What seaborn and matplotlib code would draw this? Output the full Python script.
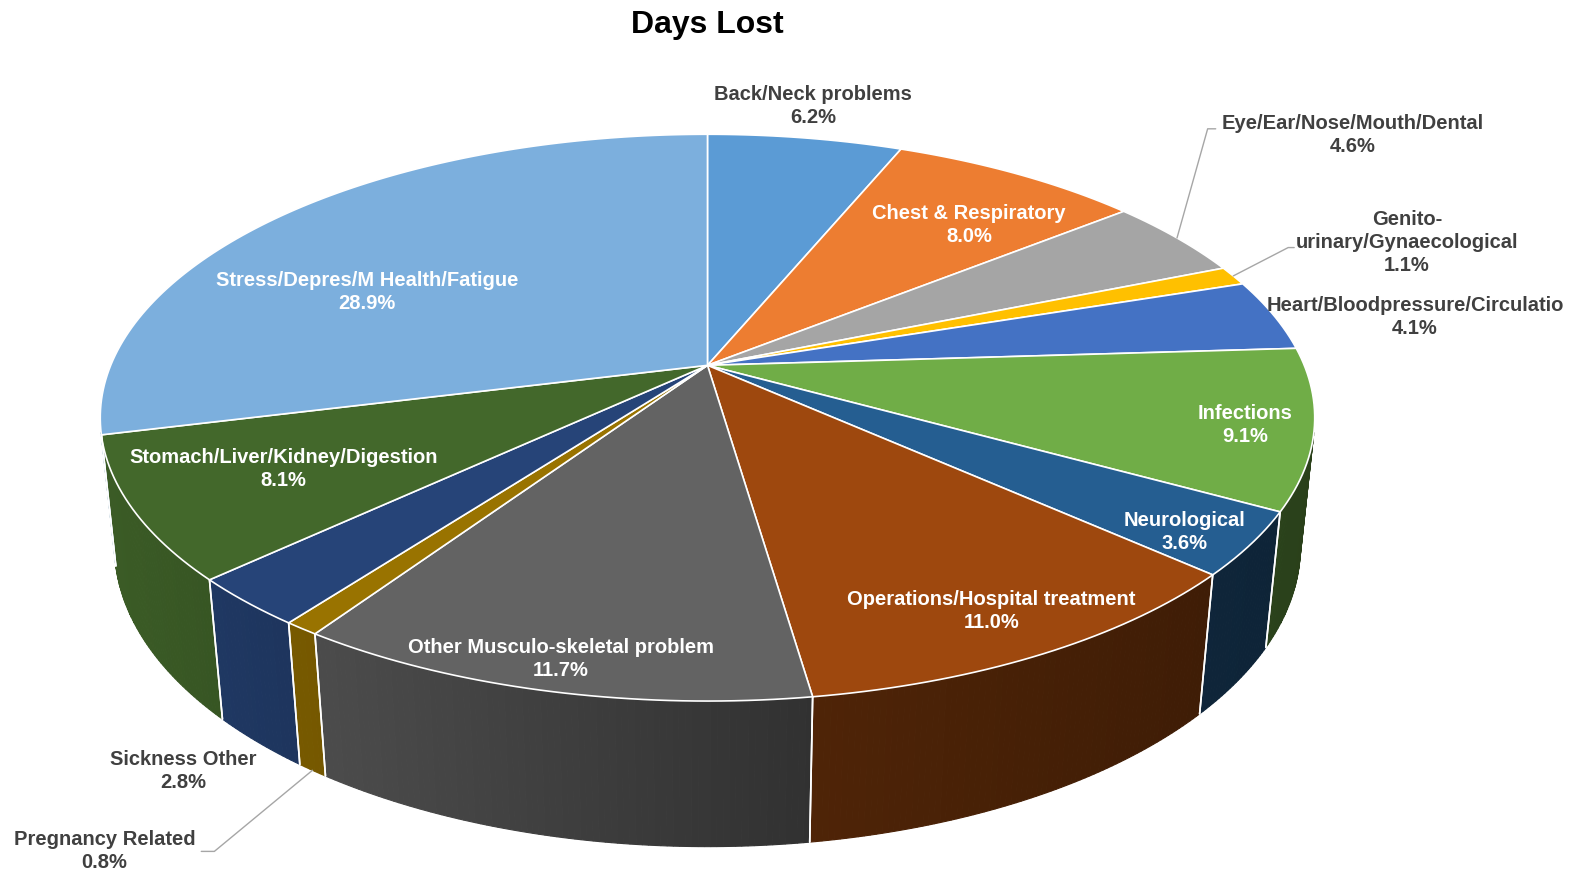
import numpy as np
import matplotlib
matplotlib.use("Agg")
import matplotlib.pyplot as plt
import seaborn as sns
from matplotlib.patches import Polygon

# Data (share of days lost, %), clockwise from 12 o'clock
categories = ["Back/Neck problems", "Chest & Respiratory", "Eye/Ear/Nose/Mouth/Dental",
              "Genito-\nurinary/Gynaecological", "Heart/Bloodpressure/Circulatio", "Infections",
              "Neurological", "Operations/Hospital treatment", "Other Musculo-skeletal problem",
              "Pregnancy Related", "Sickness Other", "Stomach/Liver/Kidney/Digestion",
              "Stress/Depres/M Health/Fatigue"]
shares = [6.2, 8.0, 4.6, 1.1, 4.1, 9.1, 3.6, 11.0, 11.7, 0.8, 2.8, 8.1, 28.9]
colors = ["#5B9BD5", "#ED7D31", "#A5A5A5", "#FFC000", "#4472C4", "#70AD47", "#255E91",
          "#9E480E", "#636363", "#997300", "#264478", "#43682B", "#7CAFDD"]

# label layout (measured on a 1568-wide view): (centre x, centre y, inside?, leader elbow)
label_layout = [
    (808, 105, False, None),
    (963, 224, True, None),
    (1344, 134, False, [(1200, 128), (1208, 128)]),
    (1398, 241, False, [(1280, 246), (1286, 246)]),
    (1406, 315, False, None),
    (1237, 422, True, None),
    (1177, 529, True, None),
    (985, 607, True, None),
    (557, 655, True, None),
    (104, 846, False, [(213, 846), (200, 846)]),
    (182, 766, False, None),
    (282, 466, True, None),
    (365, 290, True, None),
]
SC = 1578 / 1568

sns.set_theme(style="white")
plt.rcParams['font.family'] = ['Liberation Sans', 'DejaVu Sans']

fig = plt.figure(figsize=(15.78, 8.76), dpi=100)
ax = fig.add_axes([0, 0, 1, 1])
ax.set_xlim(0, 1578)
ax.set_ylim(876, 0)
ax.axis("off")

# 3D pie geometry (perspective view of a disc)
CX, CY = 703 * SC, 363 * SC
K = 593 * SC
ELEV = np.radians(27.3)
DIST = 4.81
THICK = 0.245


def project(phi, r=1.0, z=0.0):
    x = r * np.sin(phi)
    y = -r * np.cos(phi)
    depth = y * np.cos(ELEV) + z * np.sin(ELEV)
    s = DIST / (DIST - depth)
    return CX + K * x * s, CY + K * (y * np.sin(ELEV) - z * np.cos(ELEV)) * s


def shade(hexcol, f):
    rgb = np.array(matplotlib.colors.to_rgb(hexcol))
    return tuple(np.clip(rgb * f, 0, 1))


vals = np.array(shares)
bounds = np.concatenate([[0], np.cumsum(vals)]) / vals.sum() * 2 * np.pi

# visible part of the outer wall
t = 1 / (DIST * np.cos(ELEV))
vis0, vis1 = np.arccos(-t), 2 * np.pi - np.arccos(-t)

# side walls
for i, col in enumerate(colors):
    a0, a1 = max(bounds[i], vis0), min(bounds[i + 1], vis1)
    if a1 <= a0:
        continue
    n = max(2, int(np.degrees(a1 - a0) / 0.5))
    ph = np.linspace(a0, a1, n + 1)
    for p0, p1 in zip(ph[:-1], ph[1:]):
        pts = [project(p0), project(p1), project(p1, z=-THICK), project(p0, z=-THICK)]
        xm = (pts[0][0] + pts[1][0]) / 2 / SC
        f = np.interp(xm, [100, 320, 800, 1200, 1310], [0.88, 0.76, 0.50, 0.40, 0.37])
        c = shade(col, f)
        ax.add_patch(Polygon(pts, closed=True, facecolor=c, edgecolor=c, lw=0.8))
    # white seams on the wall at slice borders
    for a in (bounds[i], bounds[i + 1]):
        if vis0 < a < vis1:
            xt, yt = project(a)
            xb, yb = project(a, z=-THICK)
            ax.plot([xt, xb], [yt, yb], color="white", lw=1.2)

# top faces
for i, col in enumerate(colors):
    ph = np.linspace(bounds[i], bounds[i + 1], max(3, int(np.degrees(bounds[i + 1] - bounds[i]))))
    pts = [(CX, CY)] + [project(p) for p in ph]
    ax.add_patch(Polygon(pts, closed=True, facecolor=col, edgecolor="white", lw=1.2))

# labels
for i, (name, v) in enumerate(zip(categories, shares)):
    lx, ly, inside, elbow = label_layout[i]
    ax.text(lx * SC, ly * SC, f"{name}\n{v:.1f}%", ha="center", va="center",
            multialignment="center", fontsize=14.5, fontweight="bold",
            color="white" if inside else "#404040", linespacing=1.27)
    if elbow is not None:
        mid = (bounds[i] + bounds[i + 1]) / 2
        z = -THICK if np.pi * 0.6 < mid < np.pi * 1.4 else 0.0
        ax0 = project(mid, z=z)
        xs = [ax0[0]] + [p[0] * SC for p in elbow]
        ys = [ax0[1]] + [p[1] * SC for p in elbow]
        ax.plot(xs, ys, color="#a6a6a6", lw=1)

ax.text(703 * SC, 25 * SC, "Days Lost", ha="center", va="center", fontsize=23,
        fontweight="bold", color="black")

fig.savefig("out.png", dpi=100, facecolor="white")
